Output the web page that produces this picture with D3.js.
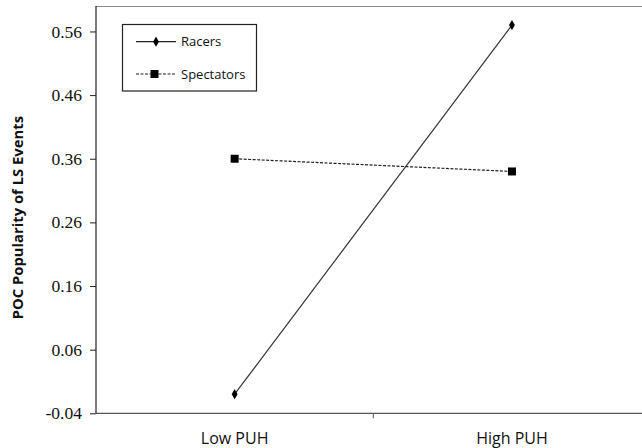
<!DOCTYPE html>
<html><head><meta charset="utf-8">
<script src="https://cdn.jsdelivr.net/npm/d3@7"></script>
<style>html,body{margin:0;padding:0;background:#fff;}svg{display:block;}</style>
</head><body>
<svg id="chart" width="642" height="448"></svg>
<script>
const categories = ["Low PUH", "High PUH"];
const racers = [-0.01, 0.57];
const spectators = [0.36, 0.34];
const yTicks = [-0.04, 0.06, 0.16, 0.26, 0.36, 0.46, 0.56];
const seriesNames = ["Racers", "Spectators"];

(function () {
const svg = d3.select("#chart");
const mLeft = 96, mTop = 6, mBottom = 413.3;
const bandW = 277.3;
const x = d3.scaleBand().domain(categories).range([mLeft, mLeft + 2 * bandW]);
const y = d3.scaleLinear().domain([-0.04, 0.60]).range([mBottom, mTop]);
const cx = c => x(c) + x.bandwidth() / 2;

// top border
svg.append("line").attr("x1", mLeft).attr("x2", 642).attr("y1", mTop + 0.5).attr("y2", mTop + 0.5)
  .attr("stroke", "#8a8a8a").attr("stroke-width", 1.2);

// y axis
const yAxis = d3.axisLeft(y).tickValues(yTicks).tickSize(6).tickSizeOuter(0)
  .tickFormat(d => d3.format(".2f")(d).replace("−", "-"));
const yg = svg.append("g").attr("transform", `translate(${mLeft},0)`).call(yAxis)
  .attr("font-family", "'Liberation Serif', 'Times New Roman', serif").attr("font-size", 17.5);
yg.select(".domain").attr("stroke", "#222").attr("stroke-width", 1.2).attr("d", `M0,${mTop}V${mBottom}`);
yg.selectAll(".tick line").attr("stroke", "#222");
yg.selectAll(".tick text")
  .style("font-family", "'Liberation Serif', 'Times New Roman', serif")
  .style("font-size", "17.5px").attr("fill", "#111").attr("x", -14);

// x axis
const xg = svg.append("g").attr("transform", `translate(0,${mBottom})`);
xg.append("line").attr("x1", mLeft).attr("x2", mLeft + 2 * bandW).attr("stroke", "#555").attr("stroke-width", 1.2);
xg.append("line").attr("x1", x(categories[1])).attr("x2", x(categories[1])).attr("y1", 0).attr("y2", 5).attr("stroke", "#555");
xg.selectAll("text.cat").data(categories).join("text").attr("class", "cat")
  .attr("x", d => cx(d)).attr("y", 31).attr("text-anchor", "middle")
  .style("font-family", "'Open Sans', sans-serif").style("font-size", "16px").attr("fill", "#111").text(d => d);

// y title
svg.append("text").attr("transform", `translate(23,${(mTop + mBottom) / 2 + 8}) rotate(-90)`)
  .attr("text-anchor", "middle").style("font-family", "'Open Sans', sans-serif").style("font-weight", "bold")
  .style("font-size", "14.8px").attr("fill", "#111").text("POC Popularity of LS Events");

// lines
const line = d3.line().x((d, i) => cx(categories[i])).y(d => y(d));
svg.append("path").datum(spectators).attr("d", line).attr("fill", "none").attr("stroke", "#222")
  .attr("stroke-width", 1.2).attr("stroke-dasharray", "3,1.5");
svg.append("path").datum(racers).attr("d", line).attr("fill", "none").attr("stroke", "#333").attr("stroke-width", 1.2);

const diamond = d3.symbol().type(d3.symbolDiamond).size(30);
svg.selectAll("path.rm").data(racers).join("path").attr("class", "rm")
  .attr("transform", (d, i) => `translate(${cx(categories[i])},${y(d)})`).attr("d", diamond).attr("fill", "#000");
svg.selectAll("rect.sm").data(spectators).join("rect").attr("class", "sm")
  .attr("x", (d, i) => cx(categories[i]) - 4).attr("y", d => y(d) - 4).attr("width", 8).attr("height", 8).attr("fill", "#000");

// legend
const lg = svg.append("g");
lg.append("rect").attr("x", 122.5).attr("y", 24.5).attr("width", 134).attr("height", 66.5)
  .attr("fill", "#fff").attr("stroke", "#222").attr("stroke-width", 1.2);
const ly = [41.7, 74];
lg.append("line").attr("x1", 136).attr("x2", 176).attr("y1", ly[0]).attr("y2", ly[0]).attr("stroke", "#222").attr("stroke-width", 1.2);
lg.append("path").attr("transform", `translate(156,${ly[0]})`).attr("d", diamond).attr("fill", "#000");
lg.append("line").attr("x1", 136).attr("x2", 176).attr("y1", ly[1]).attr("y2", ly[1]).attr("stroke", "#222").attr("stroke-width", 1.2).attr("stroke-dasharray", "3,1.5");
lg.append("rect").attr("x", 150.5).attr("y", ly[1] - 4).attr("width", 8).attr("height", 8).attr("fill", "#000");
lg.selectAll("text").data(seriesNames).join("text").attr("x", 181).attr("y", (d, i) => ly[i] + 4.5)
  .style("font-family", "'Open Sans', sans-serif").style("font-size", "13px").attr("fill", "#111").text(d => d);
})();
</script>
</body></html>
